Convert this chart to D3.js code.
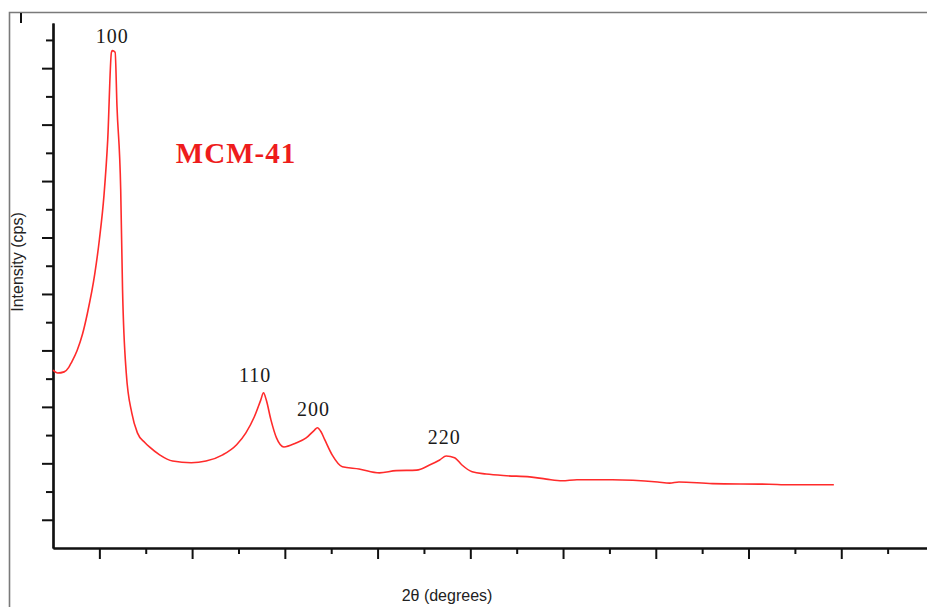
<!DOCTYPE html>
<html>
<head>
<meta charset="utf-8">
<script src="https://cdn.jsdelivr.net/npm/d3@7"></script>
<style>
  html, body { margin: 0; padding: 0; background: #fff; }
  svg { display: block; }
</style>
</head>
<body>
<svg id="chart" width="927" height="607"></svg>
<script>
// Low-angle XRD pattern of MCM-41
const twoTheta = [1.50, 1.55, 1.62, 1.67, 1.70, 1.76, 1.82, 1.87, 1.95, 2.00, 2.05,
  2.09, 2.13, 2.14, 2.17, 2.19, 2.23, 2.25, 2.29, 2.35, 2.41,
  2.49, 2.54, 2.65, 2.79, 2.99, 3.15, 3.33, 3.48, 3.58, 3.67,
  3.74, 3.77, 3.80, 3.85, 3.91, 3.99, 4.12, 4.23, 4.32, 4.35,
  4.39, 4.43, 4.51, 4.62, 4.80, 5.02, 5.20, 5.42, 5.56, 5.67,
  5.74, 5.83, 5.91, 6.02, 6.17, 6.39, 6.64, 6.82, 6.99, 7.15,
  7.53, 8.02, 8.15, 8.25, 8.61, 9.22, 9.44, 9.92];
const intensity = [3650, 3600, 3620, 3700, 3790, 4000, 4300, 4650, 5350, 5960, 6750,
  7730, 9280, 9310, 9280, 8320, 6850, 5070, 3600, 2890, 2540,
  2370, 2290, 2150, 2040, 2010, 2040, 2150, 2330, 2540, 2820,
  3120, 3250, 3120, 2770, 2450, 2290, 2360, 2450, 2590, 2630,
  2560, 2420, 2150, 1940, 1900, 1830, 1870, 1880, 1970, 2060,
  2130, 2100, 1970, 1850, 1810, 1780, 1760, 1720, 1690, 1710,
  1710, 1670, 1650, 1670, 1640, 1630, 1620, 1620];

// Miller-index labels for the reflections
const peakLabels = ["100", "110", "200", "220"];
const peakLabelTheta = [2.14, 3.68, 4.31, 5.72];
const peakLabelCps = [9450, 3440, 2840, 2340];

// Axis ticks (unlabelled): long at whole degrees / thousands, short in between
const xMajorTicks = [2, 3, 4, 5, 6, 7, 8, 9, 10];
const xMinorTicks = [2.5, 3.5, 4.5, 5.5, 6.5, 7.5, 8.5, 9.5, 10.5];
const yMajorTicks = [1000, 2000, 3000, 4000, 5000, 6000, 7000, 8000, 9000];
const yMinorTicks = [1500, 2500, 3500, 4500, 5500, 6500, 7500, 8500, 9500];

const sampleName = "MCM-41";
const xTitle = "2\u03b8 (degrees)";
const yTitle = "Intensity (cps)";

const svg = d3.select("#chart");

const x = d3.scaleLinear().domain([1.5, 11]).range([53, 934]);
const y = d3.scaleLinear().domain([500, 9800]).range([548, 23]);

// outer frame
svg.append("path")
  .attr("d", "M9.5,607 L9.5,12.5 L927,12.5")
  .attr("fill", "none")
  .attr("stroke", "#7a7a7a")
  .attr("stroke-width", 1.6);
svg.append("line")
  .attr("x1", 21).attr("x2", 21).attr("y1", 13).attr("y2", 23)
  .attr("stroke", "#111").attr("stroke-width", 2);

function styleAxis(g) {
  g.select(".domain").attr("stroke", "#111").attr("stroke-width", 2.2);
  g.selectAll(".tick line").attr("stroke", "#111").attr("stroke-width", 2);
  g.selectAll(".tick text").remove();
}

// y axis
const yAxisG = svg.append("g").attr("transform", `translate(${x(1.5)},0)`);
yAxisG.call(d3.axisLeft(y).tickValues(yMajorTicks).tickSize(11).tickSizeOuter(0).tickFormat(""));
styleAxis(yAxisG);
const yMinorG = svg.append("g").attr("transform", `translate(${x(1.5)},0)`);
yMinorG.call(d3.axisLeft(y).tickValues(yMinorTicks).tickSize(7).tickSizeOuter(0).tickFormat(""));
styleAxis(yMinorG);

// x axis
const xAxisG = svg.append("g").attr("transform", `translate(0,${y(500)})`);
xAxisG.call(d3.axisBottom(x).tickValues(xMajorTicks).tickSize(11).tickSizeOuter(0).tickFormat(""));
styleAxis(xAxisG);
const xMinorG = svg.append("g").attr("transform", `translate(0,${y(500)})`);
xMinorG.call(d3.axisBottom(x).tickValues(xMinorTicks).tickSize(6).tickSizeOuter(0).tickFormat(""));
styleAxis(xMinorG);

// diffraction trace
const pts = twoTheta.map((t, i) => [t, intensity[i]]);
const line = d3.line()
  .x(d => x(d[0]))
  .y(d => y(d[1]))
  .curve(d3.curveMonotoneX);
svg.append("path")
  .datum(pts)
  .attr("d", line)
  .attr("fill", "none")
  .attr("stroke", "#ff2b2b")
  .attr("stroke-width", 1.6)
  .attr("stroke-linejoin", "round");

// reflection labels
svg.selectAll("text.peak")
  .data(peakLabels)
  .join("text")
  .attr("class", "peak")
  .attr("x", (d, i) => x(peakLabelTheta[i]))
  .attr("y", (d, i) => y(peakLabelCps[i]))
  .attr("text-anchor", "middle")
  .attr("font-family", "'Liberation Serif', 'Times New Roman', serif")
  .attr("font-size", 20)
  .attr("letter-spacing", 1)
  .attr("fill", "#1a1a1a")
  .text(d => d);

// sample name
svg.append("text")
  .attr("x", 236)
  .attr("y", 163)
  .attr("text-anchor", "middle")
  .attr("font-family", "'Liberation Serif', 'Times New Roman', serif")
  .attr("font-weight", "bold")
  .attr("font-size", 29)
  .attr("letter-spacing", 1)
  .attr("fill", "#ee1c1c")
  .text(sampleName);

// axis titles
svg.append("text")
  .attr("x", 447)
  .attr("y", 601)
  .attr("text-anchor", "middle")
  .attr("font-family", "'Liberation Sans', Arial, sans-serif")
  .attr("font-size", 16)
  .attr("fill", "#222")
  .text(xTitle);

svg.append("text")
  .attr("transform", "translate(23,262) rotate(-90)")
  .attr("text-anchor", "middle")
  .attr("font-family", "'Liberation Sans', Arial, sans-serif")
  .attr("font-size", 16)
  .attr("fill", "#222")
  .text(yTitle);
</script>
</body>
</html>
